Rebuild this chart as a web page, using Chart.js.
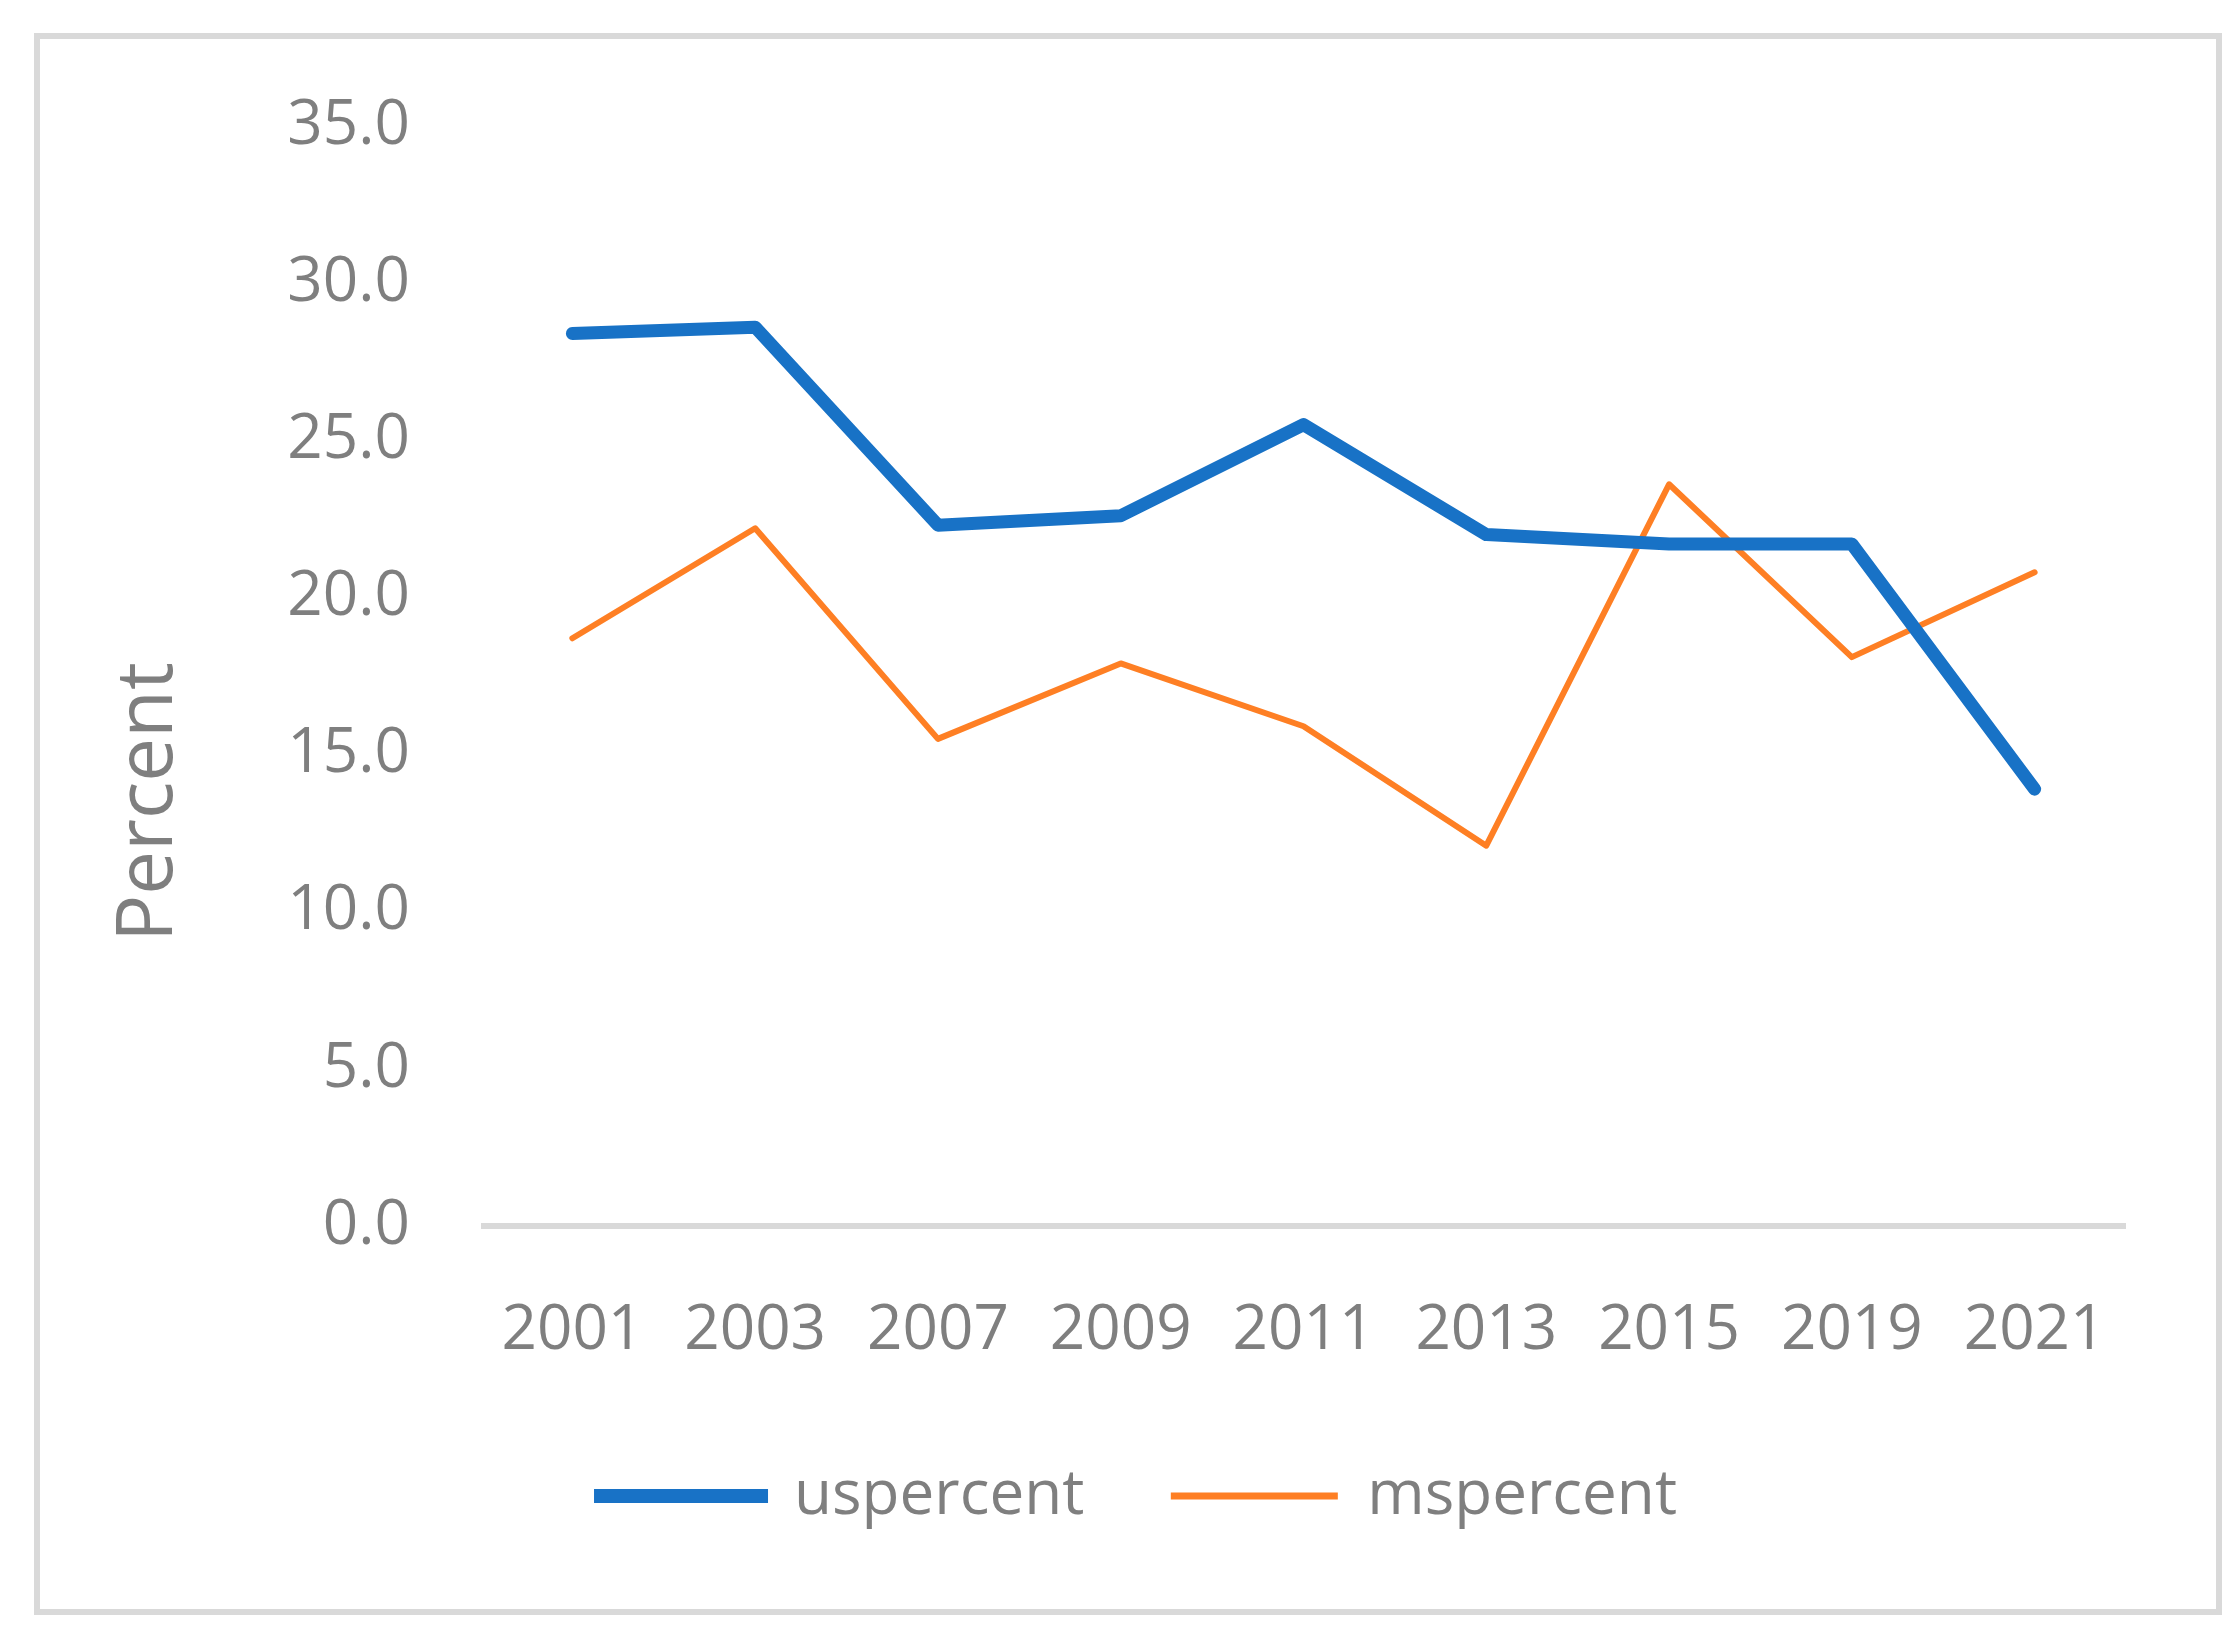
<!DOCTYPE html>
<html>
<head>
<meta charset="utf-8">
<script src="https://cdn.jsdelivr.net/npm/chart.js@4.4.1/dist/chart.umd.min.js"></script>
<style>
  html, body { margin: 0; padding: 0; background: #fff; }
  #frame {
    position: absolute; left: 34px; top: 33px;
    width: 2188px; height: 1582px;
    box-sizing: border-box; border: 6px solid #d9d9d9;
  }
  #wrap { position: absolute; left: 0; top: 0; width: 2239px; height: 1637px; }
</style>
</head>
<body>
<div id="frame"></div>
<div id="wrap"><canvas id="line_chart"></canvas></div>
<script>
const years = ['2001', '2003', '2007', '2009', '2011', '2013', '2015', '2019', '2021'];
const uspercent = [28.4, 28.6, 22.3, 22.6, 25.5, 22.0, 21.7, 21.7, 13.9];
const mspercent = [18.7, 22.2, 15.5, 17.9, 15.9, 12.1, 23.6, 18.1, 20.8];
const y_ticks = [0, 5, 10, 15, 20, 25, 30, 35];
const y_title = 'Percent';

const grey = '#7f7f7f';
const font_family = '"Open Sans", "Noto Sans", sans-serif';

let line_graph = document.getElementById('line_chart')

// axis title sits below the middle of the axis in the original, so draw it by hand
const y_title_plugin = {
  id: 'y_title_plugin',
  afterDraw(chart) {
    const ctx = chart.ctx
    const area = chart.chartArea
    ctx.save()
    ctx.translate(150, area.bottom - 424)
    ctx.rotate(-Math.PI / 2)
    ctx.fillStyle = grey
    ctx.font = '78px ' + font_family
    ctx.textAlign = 'center'
    ctx.textBaseline = 'middle'
    ctx.fillText(y_title, 0, 0)
    ctx.restore()
  }
}

new Chart(line_graph, {
  type: 'line',
  data: {
    labels: years,
    datasets: [{
      label: 'uspercent',
      data: uspercent,
      borderColor: '#1872c6',
      backgroundColor: '#1872c6',
      borderWidth: 13,
      borderCapStyle: 'round',
      borderJoinStyle: 'round',
      pointRadius: 0,
      tension: 0,
      fill: false,
    }, {
      label: 'mspercent',
      data: mspercent,
      borderColor: '#fe7f24',
      backgroundColor: '#fe7f24',
      borderWidth: 6,
      borderCapStyle: 'round',
      borderJoinStyle: 'round',
      pointRadius: 0,
      tension: 0,
      fill: false,
    }]
  },
  plugins: [y_title_plugin],
  options: {
    responsive: true,
    maintainAspectRatio: false,
    animation: false,
    layout: {
      padding: { left: 150, right: 113, top: 126, bottom: 100 }
    },
    plugins: {
      tooltip: { enabled: false },
      legend: {
        position: 'bottom',
        labels: {
          color: grey,
          font: { family: font_family, size: 62 },
          boxWidth: 164,
          boxHeight: 4,
          padding: 88,
          generateLabels: (chart) => chart.data.datasets.map((ds, i) => ({
            text: ds.label,
            fillStyle: ds.borderColor,
            strokeStyle: ds.borderColor,
            lineWidth: i === 0 ? 10 : 3,
            lineCap: 'round',
            fontColor: grey,
            datasetIndex: i,
            hidden: false,
          }))
        }
      }
    },
    scales: {
      x: {
        offset: true,
        grid: { display: false },
        border: { display: false },
        ticks: {
          color: grey,
          font: { family: font_family, size: 62 },
          padding: 60,
          maxRotation: 0,
        },
        afterFit: (scale) => { scale.height = 151; }
      },
      y: {
        min: 0,
        max: 35,
        afterBuildTicks: (scale) => { scale.ticks = y_ticks.map(v => ({ value: v })); },
        border: { display: false },
        grid: {
          drawTicks: false,
          lineWidth: 6,
          color: (ctx) => ctx.tick && ctx.tick.value === 0 ? '#d9d9d9' : 'rgba(0,0,0,0)',
        },
        ticks: {
          color: grey,
          font: { family: font_family, size: 62 },
          padding: 71,
          callback: (v) => Number(v).toFixed(1),
        },
        title: { display: false },
        afterFit: (scale) => { scale.width = 331; }
      }
    }
  },
})
</script>
</body>
</html>
